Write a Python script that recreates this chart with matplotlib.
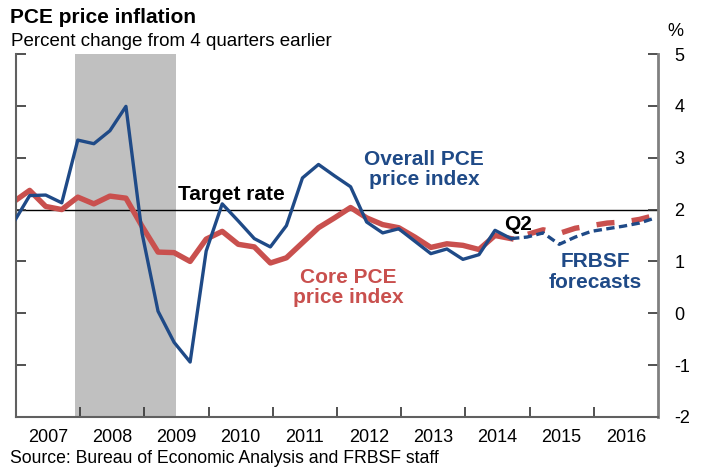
import numpy as np
import matplotlib
matplotlib.use('Agg')
import matplotlib.pyplot as plt
from matplotlib.ticker import FixedLocator, FuncFormatter

plt.rcParams['font.family'] = ['Liberation Sans', 'DejaVu Sans']
plt.rcParams['lines.scale_dashes'] = False

# actual data, 2006Q4 .. 2014Q3
actual_start = (2006, 4)
overall_pce = [1.75,
               2.27, 2.28, 2.13, 3.34,
               3.27, 3.52, 3.99, 1.55,
               0.04, -0.56, -0.94, 1.20,
               2.11, 1.78, 1.44, 1.28,
               1.69, 2.61, 2.87, 2.65,
               2.44, 1.76, 1.55, 1.63,
               1.39, 1.15, 1.24, 1.04,
               1.13, 1.60, 1.44]
core_pce = [2.15,
            2.37, 2.06, 2.00, 2.24,
            2.11, 2.26, 2.22, 1.68,
            1.18, 1.17, 1.00, 1.43,
            1.58, 1.33, 1.28, 0.97,
            1.07, 1.36, 1.65, 1.84,
            2.04, 1.84, 1.71, 1.65,
            1.47, 1.27, 1.34, 1.31,
            1.23, 1.50, 1.44]

# FRBSF forecasts, 2014Q3 .. 2016Q4
forecast_start = (2014, 3)
overall_fc = [1.44, 1.47, 1.55, 1.33, 1.47, 1.58, 1.63, 1.68, 1.74, 1.84]
core_fc = [1.44, 1.52, 1.61, 1.54, 1.64, 1.69, 1.74, 1.76, 1.81, 1.89]

years = list(range(2007, 2017))
target_rate = 2.0
recession = (2007.92, 2009.5)


def quarter_x(start, n):
    """x position of n quarters, starting at (year, quarter)"""
    y, q = start
    idx = np.arange(n) + (y * 4 + q - 1)
    yr = idx // 4
    qq = idx % 4 + 1
    return yr + (qq - 0.15) * 0.25


BLUE = '#1f4a87'
RED = '#c9504e'

fig = plt.figure(figsize=(7.12, 4.68), dpi=100)
ax = fig.add_axes([0.0225, 0.109, 0.9015, 0.7756])

ax.axvspan(recession[0], recession[1], color='#c0c0c0', lw=0, zorder=0)
ax.axhline(target_rate, color='black', lw=1.0, zorder=1)

xa = quarter_x(actual_start, len(overall_pce))
xf = quarter_x(forecast_start, len(overall_fc))

ax.plot(xa, core_pce, color=RED, lw=3.9, zorder=2)
ax.plot(xf, core_fc, color=RED, lw=3.9, ls=(13, (13, 12.5)), zorder=2)
ax.plot(xa, overall_pce, color=BLUE, lw=2.4, zorder=3)
ax.plot(xf, overall_fc, color=BLUE, lw=2.4, ls=(0, (6, 3.2)), zorder=3)

ax.set_xlim(2007, 2017)
ax.set_ylim(-2, 5)

# axes styling
ax.spines['top'].set_visible(False)
for s in ['left', 'right', 'bottom']:
    ax.spines[s].set_color('#606060')
    ax.spines[s].set_linewidth(1.5)
ax.spines['right'].set_color('#808080')
ax.spines['right'].set_linewidth(2)

ax.yaxis.set_major_locator(FixedLocator(range(-2, 6)))
ax.yaxis.set_major_formatter(FuncFormatter(lambda v, p: '%d' % v))
ax.tick_params(axis='y', which='major', direction='in', length=7, width=1.2,
               left=True, right=True, labelleft=False, labelright=True,
               labelsize=13, pad=12, color='#333333')

ax.xaxis.set_major_locator(FixedLocator(years[1:]))
ax.xaxis.set_minor_locator(FixedLocator([y + 0.5 for y in years]))
ax.xaxis.set_major_formatter(FuncFormatter(lambda v, p: ''))
ax.xaxis.set_minor_formatter(FuncFormatter(lambda v, p: '%d' % int(v)))
ax.tick_params(axis='x', which='major', direction='in', length=7, width=1.2,
               color='#333333')
ax.tick_params(axis='x', which='minor', length=0, labelsize=13, pad=9)

# titles
fig.text(0.014, 0.963, 'PCE price inflation', fontsize=15, fontweight='bold',
         va='center', ha='left')
fig.text(0.016, 0.912, 'Percent change from 4 quarters earlier', fontsize=13.5,
         va='center', ha='left')
fig.text(0.938, 0.932, '%', fontsize=13, va='center', ha='left')
fig.text(0.014, 0.021, 'Source: Bureau of Economic Analysis and FRBSF staff',
         fontsize=12.7, va='center', ha='left')

# annotations
ax.text(2009.52, 2.29, 'Target rate', fontsize=15, fontweight='bold',
        color='black', ha='left', va='center')
ax.text(2013.36, 2.77, 'Overall PCE\nprice index', fontsize=15, fontweight='bold',
        color=BLUE, ha='center', va='center', linespacing=1.1)
ax.text(2012.18, 0.50, 'Core PCE\nprice index', fontsize=15, fontweight='bold',
        color=RED, ha='center', va='center', linespacing=1.1)
ax.text(2014.82, 1.71, 'Q2', fontsize=15, fontweight='bold',
        color='black', ha='center', va='center')
ax.text(2016.02, 0.80, 'FRBSF\nforecasts', fontsize=15, fontweight='bold',
        color=BLUE, ha='center', va='center', linespacing=1.1)

fig.savefig('out.png', dpi=100)
